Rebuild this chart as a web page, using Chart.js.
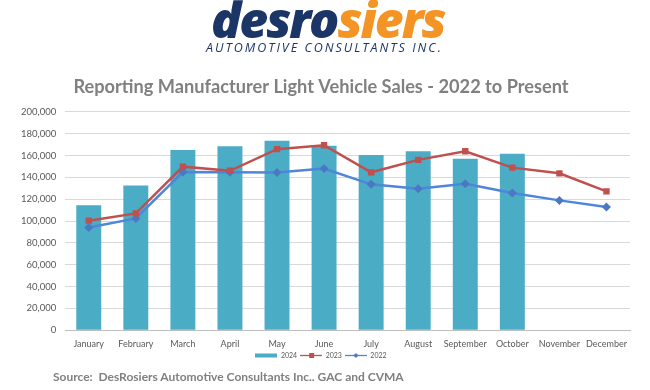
<!DOCTYPE html>
<html>
<head>
<meta charset="utf-8">
<script src="https://cdn.jsdelivr.net/npm/chart.js@4.4.1/dist/chart.umd.min.js"></script>
<style>
  html, body { margin: 0; padding: 0; background: #fff; width: 650px; height: 390px; overflow: hidden; }
  #wrap { position: relative; width: 650px; height: 390px; }
  #chart { position: absolute; left: 0; top: 0; }
  #logo { position: absolute; left: 211px; top: -11px; width: 250px; font-family: "Open Sans", sans-serif; font-weight: 800; font-style: italic; font-size: 50px; letter-spacing: -2px; line-height: 60px; white-space: nowrap; }
  #logo .n { color: #1c3567; }
  #logo .o { color: #f39425; }
  #sub { position: absolute; left: 206px; top: 39px; font-family: "Open Sans", sans-serif; font-style: italic; font-size: 12.5px; letter-spacing: 2px; color: #1c3567; white-space: nowrap; }
  #src { position: absolute; left: 53px; top: 369px; font-family: "Lato", sans-serif; font-weight: bold; font-size: 12px; color: #7f7f7f; white-space: nowrap; }
</style>
</head>
<body>
<div id="wrap">
  <canvas id="chart" width="650" height="390"></canvas>
  <div id="logo"><span class="n">desro</span><span class="o">siers</span></div>
  <div id="sub">AUTOMOTIVE CONSULTANTS INC.</div>
  <div id="src">Source:&nbsp; DesRosiers Automotive Consultants Inc.. GAC and CVMA</div>
</div>
<script>
const months = ["January","February","March","April","May","June","July","August","September","October","November","December"];
const sales2024 = [114500, 132500, 165000, 168500, 173500, 169000, 160500, 164000, 157000, 161500, null, null];
const sales2023 = [100300, 107000, 149800, 146000, 165800, 169400, 144600, 156000, 163900, 148900, 143700, 127200];
const sales2022 = [94100, 102400, 144800, 144600, 144400, 148000, 133600, 129600, 134200, 125700, 118900, 112800];
const seriesNames = ["2024", "2023", "2022"];
const yTicks = { min: 0, max: 200000, step: 20000 };

const C_BAR = "#4bacc6", C_RED = "#c0504d", C_BLUE = "#4f86d9", C_BLUE_M = "#4a78c2";

function legendIcon(kind) {
  const c = document.createElement("canvas");
  c.width = 22; c.height = 7;
  const g = c.getContext("2d");
  if (kind === "bar") {
    g.fillStyle = C_BAR; g.fillRect(0, 1.5, 22, 4);
  } else {
    const col = kind === "red" ? C_RED : C_BLUE;
    g.strokeStyle = col; g.lineWidth = 1.3;
    g.beginPath(); g.moveTo(0, 3.5); g.lineTo(22, 3.5); g.stroke();
    g.fillStyle = kind === "red" ? C_RED : C_BLUE_M;
    if (kind === "red") { g.fillRect(9, 1, 5, 5); }
    else { g.beginPath(); g.moveTo(11, 1); g.lineTo(13.5, 3.5); g.lineTo(11, 6); g.lineTo(8.5, 3.5); g.closePath(); g.fill(); }
  }
  return c;
}
const icons = [legendIcon("bar"), legendIcon("red"), legendIcon("blue")];

new Chart(document.getElementById("chart"), {
  data: {
    labels: months,
    datasets: [
      { type: "line", label: seriesNames[1], data: sales2023, borderColor: C_RED, backgroundColor: C_RED, borderWidth: 2.5, pointStyle: "rect", pointRadius: 4.5, pointBorderWidth: 0, tension: 0, order: 1 },
      { type: "line", label: seriesNames[2], data: sales2022, borderColor: C_BLUE, backgroundColor: C_BLUE_M, borderWidth: 2.5, pointStyle: "rectRot", pointRadius: 4.5, pointBorderWidth: 0, tension: 0, order: 2 },
      { type: "bar", label: seriesNames[0], data: sales2024, backgroundColor: C_BAR, borderWidth: 0, barPercentage: 0.53, categoryPercentage: 1, order: 3 }
    ]
  },
  options: {
    responsive: false,
    animation: false,
    layout: { padding: { top: 76, left: 12, right: 20, bottom: 21 } },
    plugins: {
      title: {
        display: true,
        text: "Reporting Manufacturer Light Vehicle Sales - 2022 to Present",
        color: "#808080",
        font: { family: "Lato", size: 18.2, weight: "bold" },
        padding: { top: 0, bottom: 14 }
      },
      legend: {
        position: "bottom",
        labels: {
          usePointStyle: true,
          pointStyleWidth: 22,
          boxHeight: 7,
          padding: 3,
          color: "#595959",
          font: { family: "Lato", size: 7 },
          generateLabels: (chart) => {
            const order = [2, 0, 1];
            return order.map((di, i) => ({
              text: chart.data.datasets[di].label,
              pointStyle: icons[i],
              datasetIndex: di,
              fillStyle: "transparent",
              strokeStyle: "transparent",
              lineWidth: 0,
              hidden: false,
              fontColor: "#595959"
            }));
          }
        }
      },
      tooltip: { enabled: false }
    },
    scales: {
      x: {
        grid: { display: false },
        border: { color: "#bfbfbf", width: 1 },
        ticks: { color: "#595959", font: { family: "Lato", size: 9 }, maxRotation: 0, autoSkip: false, padding: 0 }
      },
      y: {
        min: yTicks.min, max: yTicks.max,
        grid: { color: "#d9d9d9", drawTicks: false },
        border: { display: false },
        ticks: { stepSize: yTicks.step, color: "#595959", font: { family: "Lato", size: 9.5 }, padding: 9,
          callback: (v) => v.toLocaleString("en-US") }
      }
    }
  }
});
</script>
</body>
</html>
